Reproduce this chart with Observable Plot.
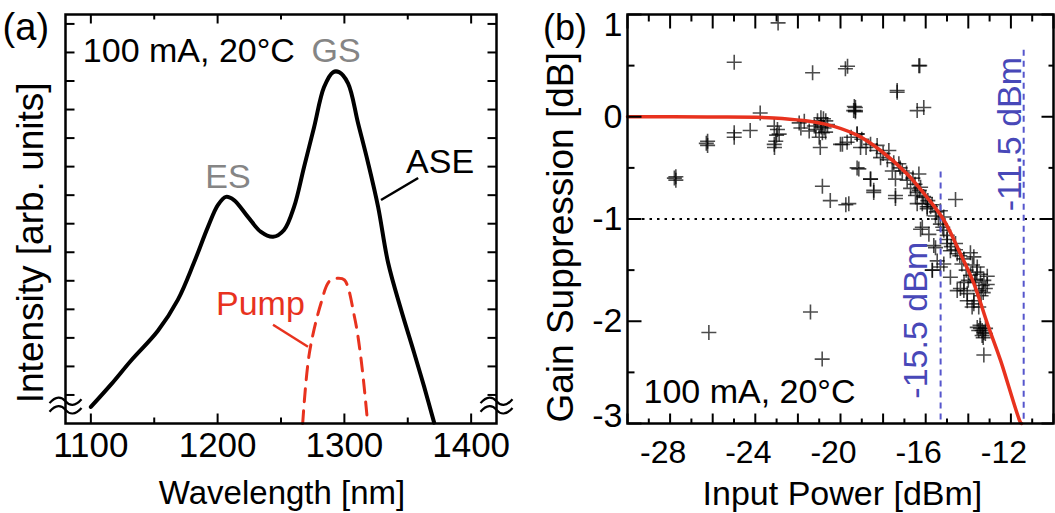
<!DOCTYPE html>
<html>
<head>
<meta charset="utf-8">
<script src="https://cdn.jsdelivr.net/npm/d3@7"></script>
<script src="https://cdn.jsdelivr.net/npm/@observablehq/plot@0.6"></script>
<style>
  body { margin: 0; background: #fff; }
  #wrap { position: relative; width: 1055px; height: 513px; overflow: hidden; background: #fff; }
  #pa { position: absolute; left: 0; top: 0; }
  #pb { position: absolute; left: 540px; top: 0; }
</style>
</head>
<body>
<div id="wrap"><div id="pa"></div><div id="pb"></div></div>
<script>
// ---------- Panel (a) data ----------
const aseWavelength = [1100, 1115.8, 1131.6, 1152.9, 1168.7, 1181.3, 1192.4, 1200.3, 1206.6, 1212.9, 1223.9, 1234.2, 1243.7, 1252.4, 1260.3, 1268.2, 1276.1, 1283.9, 1291.1, 1295.8, 1302.9, 1310.8, 1318.7, 1326.6, 1334.5, 1344.7, 1355.0, 1362.9, 1370.8];
const aseIntensity  = [0.58, 1.36, 2.20, 3.25, 4.34, 5.63, 6.89, 7.66, 7.94, 7.83, 7.24, 6.71, 6.54, 6.78, 7.59, 8.99, 10.38, 11.78, 12.31, 12.31, 11.92, 10.52, 9.13, 7.59, 5.63, 3.99, 2.48, 1.29, 0.03];
const pumpWavelength = [1267.1, 1272.4, 1281.6, 1288.1, 1294.7, 1300.0, 1307.9, 1313.2, 1318.4];
const pumpIntensity  = [0.0, 2.47, 4.22, 4.98, 5.09, 5.03, 3.75, 2.24, 0.0];
const aXTicksMajor = [1100, 1200, 1300, 1400];
const aXTicksMinor = [1150, 1250, 1350];
const aYTicks = [1, 2, 3, 4, 5, 6, 7, 8, 9, 10, 11, 12, 13, 14];
const aBlackNotes = [{text: "100 mA, 20°C", x: 1093.7, y: 12.66}, {text: "ASE", x: 1348.7, y: 8.78}];
const aGrayNotes = [{text: "GS", x: 1293.4, y: 12.66}, {text: "ES", x: 1208.2, y: 8.25}];
const aRedNotes = [{text: "Pump", x: 1198.7, y: 3.81}];
const aLeaders = [
  {x1: 1328.9, y1: 7.83, x2: 1358.2, y2: 8.60, color: "#000000"},
  {x1: 1243.7, y1: 3.46, x2: 1271.3, y2: 2.69, color: "#e8321e"}
];
const aBreaks = [{x: 1080, y: 0.63}, {x: 1420, y: 0.63}];
const aPanelLabel = [{text: "(a)", x: 1048.7, y: 13.85}];
const aXTitle = [{text: "Wavelength [nm]", x: 1250.8, y: -2.83}];
const aYTitle = [{text: "Intensity [arb. units]", x: 1052.6, y: 6.33}];

// ---------- Panel (b) data ----------
const scatterPower = [-22.93, -24.99, -21.31, -19.67, -23.77, -27.73, -27.73, -26.24, -26.24, -24.99, -24.99, -24.24, -23.11, -22.96, -23.11, -23.04, -21.94, -21.86, -21.47, -20.92, -20.92, -20.85, -20.95, -20.61, -19.91, -20.85, -20.48, -19.75, -20.69, -21.16,
  -26.18, -21.41, -20.86, -16.32, -17.34, -16.40, -16.09, -19.30, -19.30, -19.22, -19.14, -18.59, -18.44, -17.42, -16.24, -14.60, -15.62, -15.69, -14.21, -13.74, -13.27, -13.43, -13.27, -13.35, -13.19, -13.51,
  -19.38, -20.00, -19.69, -19.22, -19.06, -18.59, -18.28, -18.12, -17.73, -17.26, -17.42, -16.87, -16.32, -16.24, -16.48, -16.16, -15.77, -15.31, -15.15, -16.16, -19.22, -18.59, -18.44, -19.61, -17.42, -17.34, -19.77, -16.28, -17.57, -17.10, -16.71, -16.40, -16.01, -15.93,
  -15.54, -15.31, -15.15, -15.54, -15.46, -15.31, -15.15, -15.69, -14.84, -14.52, -14.21, -13.90, -13.74, -13.58, -13.43, -13.27, -13.35, -14.37, -14.05, -13.74, -13.51, -13.58, -13.35, -14.84, -14.52, -14.05, -13.82, -14.60, -13.11, -13.11, -13.66, -15.85, -14.99, -14.99, -16.40, -15.93,
  -21.70, -21.23, -20.77, -21.08, -22.88,
  -19.50, -19.00, -18.80, -18.30, -18.00, -17.80, -17.50, -17.20, -16.90, -16.60, -16.50, -16.30, -16.10, -15.90, -15.70, -15.50, -15.40, -15.20, -15.00, -14.80, -14.60, -14.40, -14.30, -14.10, -13.90, -13.70, -13.50, -13.40, -13.30, -13.20, -13.60, -13.80, -14.00, -14.20, -13.45, -13.30, -13.20, -20.80, -20.90, -20.70, -21.00, -23.00, -23.10, -27.80, -26.30, -19.30, -19.35];
const scatterSuppression = [0.918, 0.533, 0.43, 0.494, 0.036, -0.587, -0.62, -0.24, -0.28, -0.157, -0.20, -0.135, -0.092, -0.125, -0.27, -0.24, -0.06, -0.11, -0.14, -0.01, -0.076, -0.157, -0.30, -0.076, -0.27, -0.68, -0.82, -0.86, -0.04, -0.125,
  -2.11, -1.91, -2.37, 0.50, 0.257, 0.06, 0.09, 0.09, 0.06, -0.167, -0.51, -0.61, -0.72, -0.80, -1.10, -0.81, -1.26, -1.50, -1.70, -1.83, -2.33, -2.07, -2.11, -2.14, -2.07, -2.09,
  0.06, -0.27, -0.25, -0.17, -0.30, -0.27, -0.28, -0.40, -0.33, -0.46, -0.61, -0.62, -0.56, -0.69, -0.77, -0.85, -0.88, -0.92, -0.98, -1.08, -0.50, -0.61, -0.74, -0.85, -0.77, 0.24, 0.47, 0.50, -0.53, -0.53, -0.70, -0.74, -0.79, -0.90,
  -0.97, -1.05, -1.11, -1.28, -1.41, -1.47, -1.44, -1.50, -1.31, -1.34, -1.39, -1.33, -1.37, -1.47, -1.54, -1.60, -1.65, -1.68, -1.73, -1.80, -1.86, -2.06, -2.09, -1.57, -1.70, -1.80, -1.86, -1.24, -1.56, -1.64, -1.59, -1.15, -1.16, -1.24, -0.85, -0.88,
  -0.045, -0.09, -0.11, -0.04, -0.17,
  -0.20, -0.22, -0.30, -0.33, -0.36, -0.42, -0.45, -0.50, -0.55, -0.60, -0.66, -0.72, -0.78, -0.82, -0.86, -0.93, -1.00, -1.08, -1.20, -1.27, -1.30, -1.36, -1.44, -1.50, -1.55, -1.62, -1.70, -1.75, -1.72, -1.68, -1.52, -1.45, -1.60, -1.62, -2.04, -2.16, -2.12, -0.02, -0.10, -0.15, -0.20, -0.18, -0.30, -0.60, -0.26, 0.05, 0.10];
const fitPower = [-30.0, -26.26, -23.13, -20.78, -19.22, -18.12, -16.87, -15.93, -15.15, -14.37, -13.74, -13.11, -12.49, -11.55, -11.5];
const fitSuppression = [0.0, -0.003, -0.013, -0.07, -0.18, -0.33, -0.56, -0.79, -1.01, -1.34, -1.63, -2.02, -2.38, -2.99, -3.0];
const thresholdLevel = [-1];
const markerPower = [-15.3, -11.4];
const markerTop = [-0.54, 0.65];
const markerLabels = [{text: "-15.5 dBm", x: -16.43, y: -1.99}, {text: "-11.5 dBm", x: -12.02, y: -0.17}];
const bXTicksMajor = [-28, -24, -20, -16, -12];
const bXTicksAll = d3.range(-30, -9, 1);
const bYTicksAll = d3.range(-3, 1.01, 0.5);
const bYLabelsMid = [0, -1, -2];
const bYLabelTop = [1];
const bYLabelBottom = [-3];
const bNotes = [{text: "100 mA, 20°C", x: -29.25, y: -2.80}];
const bPanelLabel = [{text: "(b)", x: -32.93, y: 0.863}];
const bXTitle = [{text: "Input Power [dBm]", x: -19.91, y: -3.80}];
const bYTitle = [{text: "Gain Suppression [dB]", x: -33.1, y: -1.18}];

// ---------- helpers ----------
const FONT = "'Liberation Sans', Arial, Helvetica, sans-serif";
const RED = "#e8321e";
const BLUE = "#4848b8";
function seg(dx, dy) {
  return {draw(ctx, size) { const r = Math.sqrt(size / Math.PI); ctx.moveTo(0, 0); ctx.lineTo(dx * r, dy * r); }};
}
const tickUp = seg(0, -1), tickDown = seg(0, 1), tickRight = seg(1, 0), tickLeft = seg(-1, 0);
const plusSym = {draw(ctx, size) { const r = Math.sqrt(size / Math.PI); ctx.moveTo(-r, 0); ctx.lineTo(r, 0); ctx.moveTo(0, -r); ctx.lineTo(0, r); }};
// axis-break glyph: two small tilde waves
const breakSym = {draw(ctx, size) {
  const r = Math.sqrt(size / Math.PI);
  for (const o of [-0.27 * r, 0.27 * r]) {
    ctx.moveTo(-r, o + 0.12 * r);
    ctx.bezierCurveTo(-0.6 * r, o - 0.35 * r, -0.25 * r, o - 0.3 * r, 0, o);
    ctx.bezierCurveTo(0.25 * r, o + 0.3 * r, 0.6 * r, o + 0.35 * r, r, o - 0.12 * r);
  }
}};
const tk = (data, anchor, sym, len, key) => Plot.dot(data, {
  [key]: d => d, frameAnchor: anchor, symbol: sym, r: len, stroke: "#000", strokeWidth: 2, fill: "none"
});

// ---------- Panel (a) ----------
const ase = aseWavelength.map((w, i) => ({w, v: aseIntensity[i]}));
const pump = pumpWavelength.map((w, i) => ({w, v: pumpIntensity[i]}));

const plotA = Plot.plot({
  width: 520, height: 513,
  marginLeft: 65, marginRight: 24, marginTop: 14, marginBottom: 90,
  x: {domain: [1080, 1420], axis: null},
  y: {domain: [0, 14.33], axis: null},
  style: {fontFamily: FONT, background: "transparent", overflow: "visible"},
  marks: [
    Plot.line(pump, {x: "w", y: "v", stroke: RED, strokeWidth: 3, strokeDasharray: "13,9", curve: "catmull-rom"}),
    Plot.line(ase, {x: "w", y: "v", stroke: "#000", strokeWidth: 4, curve: "catmull-rom"}),
    Plot.link(aLeaders, {x1: "x1", y1: "y1", x2: "x2", y2: "y2", stroke: d => d.color, strokeWidth: 2.5}),
    Plot.frame({stroke: "#000", strokeWidth: 2.5}),
    tk(aXTicksMajor, "bottom", tickUp, 10, "x"),
    tk(aXTicksMinor, "bottom", tickUp, 6, "x"),
    tk(aXTicksMajor, "top", tickDown, 9, "x"),
    tk(aXTicksMinor, "top", tickDown, 5, "x"),
    tk(aYTicks, "left", tickRight, 9, "y"),
    tk(aYTicks, "right", tickLeft, 9, "y"),
    Plot.dot(aBreaks, {x: "x", y: "y", symbol: breakSym, r: 16, stroke: "#000", strokeWidth: 2.2, fill: "none"}),
    Plot.text(aXTicksMajor, {x: d => d, frameAnchor: "bottom", dy: 9, lineAnchor: "top", text: d => String(d), fontSize: 35, fill: "#000"}),
    Plot.text(aXTitle, {x: "x", y: "y", text: "text", fontSize: 33, lineAnchor: "bottom", fill: "#000"}),
    Plot.text(aYTitle, {x: "x", y: "y", text: "text", fontSize: 37, rotate: -90, lineAnchor: "middle", fill: "#000"}),
    Plot.text(aPanelLabel, {x: "x", y: "y", text: "text", fontSize: 38, lineAnchor: "middle", fill: "#000"}),
    Plot.text(aBlackNotes, {x: "x", y: "y", text: "text", fontSize: 34, textAnchor: "start", lineAnchor: "bottom", fill: "#000"}),
    Plot.text(aGrayNotes, {x: "x", y: "y", text: "text", fontSize: 34, textAnchor: "middle", lineAnchor: "bottom", fill: "#858585"}),
    Plot.text(aRedNotes, {x: "x", y: "y", text: "text", fontSize: 34, textAnchor: "start", lineAnchor: "bottom", fill: RED})
  ]
});
document.getElementById("pa").appendChild(plotA);

// ---------- Panel (b) ----------
const scatter = scatterPower.map((p, i) => ({p, g: scatterSuppression[i]}));
const fit = fitPower.map((p, i) => ({p, g: fitSuppression[i]}));
const markers = markerPower.map((p, i) => ({p, top: markerTop[i]}));
const evenX = bXTicksAll.filter(d => d % 2 === 0);
const oddX = bXTicksAll.filter(d => d % 2 !== 0);
const intY = bYTicksAll.filter(d => Number.isInteger(d));
const halfY = bYTicksAll.filter(d => !Number.isInteger(d));

const plotB = Plot.plot({
  width: 515, height: 513,
  marginLeft: 87, marginRight: 2, marginTop: 14, marginBottom: 90,
  x: {domain: [-30, -10], axis: null},
  y: {domain: [-3, 1], axis: null},
  style: {fontFamily: FONT, background: "transparent", overflow: "visible"},
  marks: [
    Plot.dot(scatter, {x: "p", y: "g", symbol: plusSym, r: 7.5, stroke: "#000", strokeOpacity: 0.7, strokeWidth: 1.6, fill: "none"}),
    Plot.ruleY(thresholdLevel, {stroke: "#000", strokeWidth: 2, strokeDasharray: "2.5,5"}),
    Plot.ruleX(markers, {x: "p", y1: "top", y2: -3, stroke: "#5656cc", strokeWidth: 2, strokeDasharray: "6,5"}),
    Plot.line(fit, {x: "p", y: "g", stroke: RED, strokeWidth: 3.5, curve: "catmull-rom"}),
    Plot.frame({stroke: "#000", strokeWidth: 2.5}),
    tk(evenX, "bottom", tickUp, 10, "x"),
    tk(oddX, "bottom", tickUp, 5, "x"),
    tk(evenX, "top", tickDown, 14, "x"),
    tk(oddX, "top", tickDown, 7, "x"),
    tk(intY, "left", tickRight, 14, "y"),
    tk(halfY, "left", tickRight, 7, "y"),
    tk(intY, "right", tickLeft, 12, "y"),
    tk(halfY, "right", tickLeft, 5, "y"),
    Plot.text(bXTicksMajor, {x: d => d, frameAnchor: "bottom", dy: 17, dx: -7, lineAnchor: "top", text: d => String(d), fontSize: 32, fill: "#000"}),
    Plot.text(bYLabelsMid, {y: d => d, frameAnchor: "left", dx: -5, textAnchor: "end", lineAnchor: "middle", text: d => String(d), fontSize: 34, fill: "#000"}),
    Plot.text(bYLabelTop, {y: d => d, frameAnchor: "left", dx: -5, dy: 11, textAnchor: "end", lineAnchor: "middle", text: d => String(d), fontSize: 34, fill: "#000"}),
    Plot.text(bYLabelBottom, {y: d => d, frameAnchor: "left", dx: -5, dy: -7, textAnchor: "end", lineAnchor: "middle", text: d => String(d), fontSize: 34, fill: "#000"}),
    Plot.text(markerLabels, {x: "x", y: "y", text: "text", rotate: -90, fontSize: 34, lineAnchor: "middle", fill: BLUE}),
    Plot.text(bNotes, {x: "x", y: "y", text: "text", fontSize: 34, textAnchor: "start", lineAnchor: "bottom", fill: "#000"}),
    Plot.text(bPanelLabel, {x: "x", y: "y", text: "text", fontSize: 36, lineAnchor: "middle", fill: "#000"}),
    Plot.text(bXTitle, {x: "x", y: "y", text: "text", fontSize: 34, lineAnchor: "bottom", fill: "#000"}),
    Plot.text(bYTitle, {x: "x", y: "y", text: "text", fontSize: 37, rotate: -90, lineAnchor: "middle", fill: "#000"})
  ]
});
document.getElementById("pb").appendChild(plotB);
</script>
</body>
</html>
